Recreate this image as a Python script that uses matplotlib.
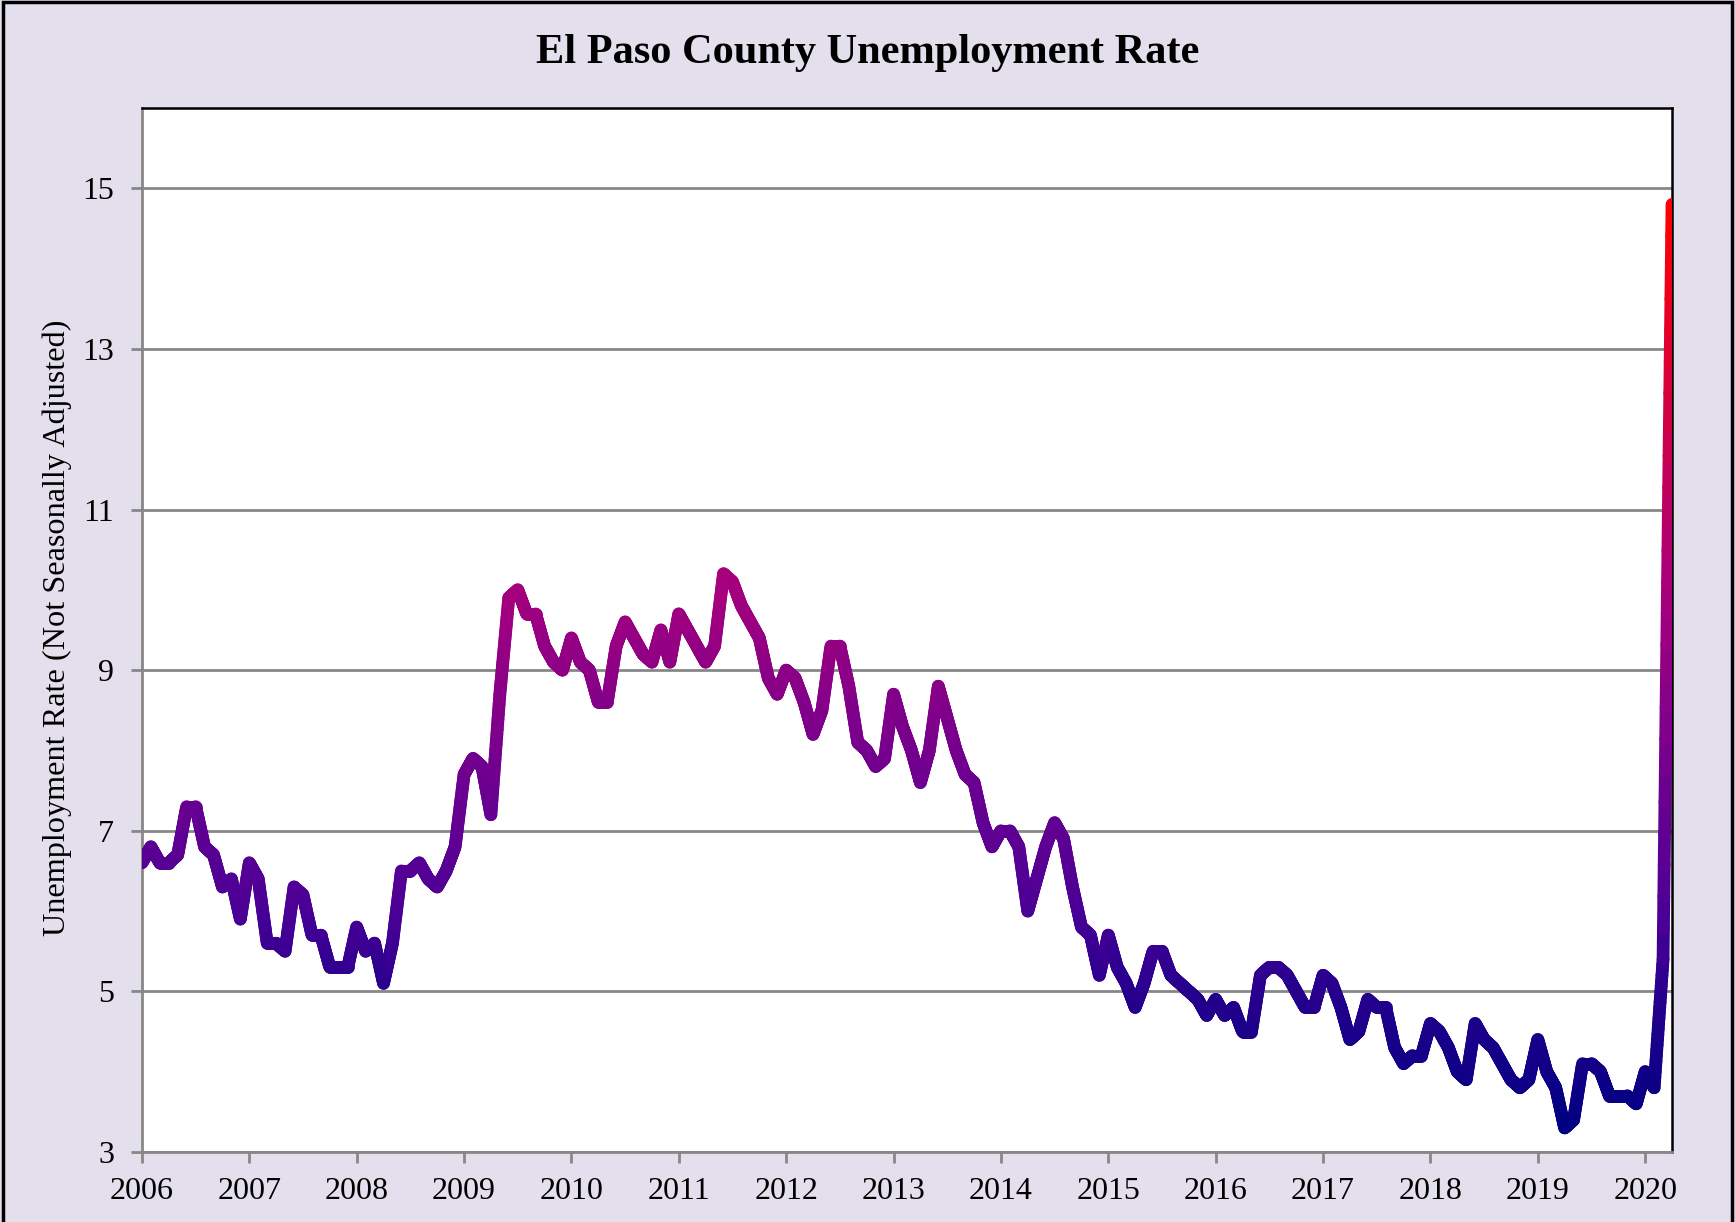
import numpy as np
import matplotlib
matplotlib.use("Agg")
import matplotlib.pyplot as plt
from matplotlib.collections import LineCollection
from matplotlib.colors import LinearSegmentedColormap, Normalize
from matplotlib.patches import Rectangle

# ---- data: monthly unemployment rate, Jan 2006 .. Apr 2020 ----
start_year = 2006
rate_2006 = [6.6, 6.8, 6.6, 6.6, 6.7, 7.3, 7.3, 6.8, 6.7, 6.3, 6.4, 5.9]
rate_2007 = [6.6, 6.4, 5.6, 5.6, 5.5, 6.3, 6.2, 5.7, 5.7, 5.3, 5.3, 5.3]
rate_2008 = [5.8, 5.5, 5.6, 5.1, 5.6, 6.5, 6.5, 6.6, 6.4, 6.3, 6.5, 6.8]
rate_2009 = [7.7, 7.9, 7.8, 7.2, 8.7, 9.9, 10.0, 9.7, 9.7, 9.3, 9.1, 9.0]
rate_2010 = [9.4, 9.1, 9.0, 8.6, 8.6, 9.3, 9.6, 9.4, 9.2, 9.1, 9.5, 9.1]
rate_2011 = [9.7, 9.5, 9.3, 9.1, 9.3, 10.2, 10.1, 9.8, 9.6, 9.4, 8.9, 8.7]
rate_2012 = [9.0, 8.9, 8.6, 8.2, 8.5, 9.3, 9.3, 8.8, 8.1, 8.0, 7.8, 7.9]
rate_2013 = [8.7, 8.3, 8.0, 7.6, 8.0, 8.8, 8.4, 8.0, 7.7, 7.6, 7.1, 6.8]
rate_2014 = [7.0, 7.0, 6.8, 6.0, 6.4, 6.8, 7.1, 6.9, 6.3, 5.8, 5.7, 5.2]
rate_2015 = [5.7, 5.3, 5.1, 4.8, 5.1, 5.5, 5.5, 5.2, 5.1, 5.0, 4.9, 4.7]
rate_2016 = [4.9, 4.7, 4.8, 4.5, 4.5, 5.2, 5.3, 5.3, 5.2, 5.0, 4.8, 4.8]
rate_2017 = [5.2, 5.1, 4.8, 4.4, 4.5, 4.9, 4.8, 4.8, 4.3, 4.1, 4.2, 4.2]
rate_2018 = [4.6, 4.5, 4.3, 4.0, 3.9, 4.6, 4.4, 4.3, 4.1, 3.9, 3.8, 3.9]
rate_2019 = [4.4, 4.0, 3.8, 3.3, 3.4, 4.1, 4.1, 4.0, 3.7, 3.7, 3.7, 3.6]
rate_2020 = [4.0, 3.8, 5.4, 14.8]

year_ticks = list(range(2006, 2021))
y_ticks = [3, 5, 7, 9, 11, 13, 15]

title_text = "El Paso County Unemployment Rate"
ylabel_text = "Unemployment Rate (Not Seasonally Adjusted)"

rates = np.array(rate_2006 + rate_2007 + rate_2008 + rate_2009 + rate_2010 +
                 rate_2011 + rate_2012 + rate_2013 + rate_2014 + rate_2015 +
                 rate_2016 + rate_2017 + rate_2018 + rate_2019 + rate_2020)
dates = start_year + np.arange(len(rates)) / 12.0

# ---- styling ----
BG = "#E4DFEC"
GRID = "#878787"
serif = ["Liberation Serif", "DejaVu Serif"]
plt.rcParams["font.family"] = serif

fig = plt.figure(figsize=(17.35, 12.22), dpi=100, facecolor=BG)
ax = fig.add_axes([0.0818, 0.0573, 0.9637 - 0.0818, 0.9116 - 0.0573])
ax.set_facecolor("white")

# vertical gradient (navy -> purple -> magenta -> red) over the line's value range
cmap = LinearSegmentedColormap.from_list(
    "grad",
    [(0.0, "#000082"), (0.15, "#28008E"), (0.235, "#4B0096"),
     (0.38, "#6E0090"), (0.6, "#AA007C"), (1.0, "#FF0000")])
norm = Normalize(vmin=rates.min(), vmax=rates.max())

# rendering: split each drawn segment finely so the colour follows height
sub = 24
segs, cols = [], []
for i in range(len(rates) - 1):
    t = np.linspace(0, 1, sub + 1)
    xs = dates[i] + (dates[i + 1] - dates[i]) * t
    ys = rates[i] + (rates[i + 1] - rates[i]) * t
    for k in range(sub):
        segs.append([(xs[k], ys[k]), (xs[k + 1], ys[k + 1])])
        cols.append(cmap(norm(0.5 * (ys[k] + ys[k + 1]))))
lc = LineCollection(segs, colors=cols, linewidths=9.2, capstyle="round",
                    joinstyle="round", zorder=3)
ax.add_collection(lc)

ax.set_xlim(dates[0], dates[-1])
ax.set_ylim(3, 16)
ax.set_xticks(year_ticks)
ax.set_xticklabels([str(y) for y in year_ticks])
ax.set_yticks(y_ticks)
ax.set_yticklabels([str(v) for v in y_ticks])

ax.grid(axis="y", color=GRID, linewidth=2.0, zorder=1)
ax.set_axisbelow(True)

for side in ["left", "bottom"]:
    ax.spines[side].set_color(GRID)
    ax.spines[side].set_linewidth(2.0)
for side in ["top", "right"]:
    ax.spines[side].set_color("black")
    ax.spines[side].set_linewidth(1.8)

ax.tick_params(axis="both", direction="out", length=8, width=2, color=GRID,
               labelsize=23, labelcolor="black")
ax.tick_params(axis="y", pad=12)
ax.tick_params(axis="x", pad=10)

fig.text(0.5, 0.957, title_text, ha="center", va="center",
         fontsize=30.5, fontweight="bold", family=serif)
fig.text(0.033, 0.486, ylabel_text, rotation=90, ha="center", va="center",
         fontsize=23.2, family=serif)

# outer border of the chart area
fig.patches.append(Rectangle((0.002, -0.01), 0.996, 1.008, transform=fig.transFigure,
                             fill=False, edgecolor="black", linewidth=2.5))

fig.savefig("out.png", dpi=100, facecolor=BG)
